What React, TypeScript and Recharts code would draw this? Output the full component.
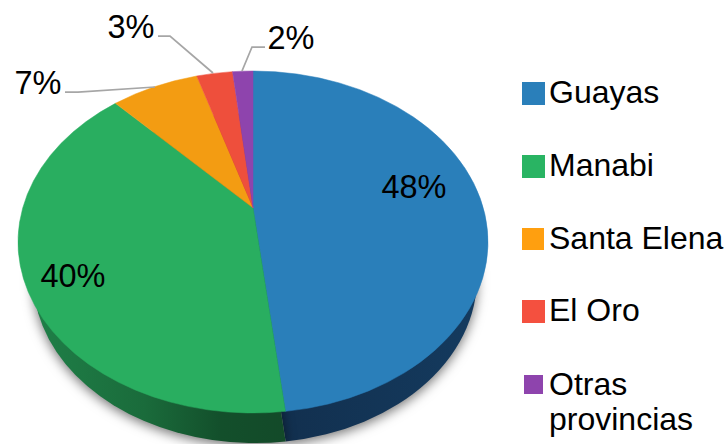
import React from "react";
import { PieChart, Pie, Legend } from "recharts";

const categories = ["Guayas", "Manabi", "Santa Elena", "El Oro", "Otras provincias"];
const shares = [48.2, 39.8, 7.3, 3.0, 1.7];
const topColors = ["#2A7FBA", "#29AE60", "#F39C12", "#EE4F3C", "#8E44AD"];
const wallColors = ["url(#wallBlue)", "url(#wallGreen)", "#8A5A0A", "#8A2E22", "#522764"];
const legendColors = ["#2A7FBA", "#29B463", "#FF9F0F", "#F4503F", "#8E44AD"];

const FONT = "'Liberation Sans', Arial, sans-serif";
const W = 728;
const H = 444;
const TILT = 0.2;

const data = categories.map((name, i) => ({
  name,
  value: shares[i],
  fill: topColors[i],
  wallFill: wallColors[i],
}));

const labelLayout = [
  { x: 414, y: 187, line: null },
  { x: 73, y: 276, line: null },
  { x: 38, y: 83, line: "65,92 78,92 155,87" },
  { x: 131, y: 27, line: "158,36 170,36 213,73" },
  { x: 291, y: 38, line: "265,47 252,47 242,71" },
];

const project = (deg: number, cx: number, cy: number, rx: number, ry: number) => {
  const a = (deg * Math.PI) / 180;
  const u = Math.cos(a);
  const v = Math.sin(a);
  const d = 1 + TILT * v;
  const x = (u * Math.sqrt(1 - TILT * TILT)) / d;
  const y = (v + TILT) / d;
  return { x: cx + x * rx, y: cy - y * ry, t: Math.atan2(y, x) };
};

const wedge = (p: any, ry: number, fill: string, extra: any = {}) => {
  const { cx, cy, outerRadius: rx, startAngle, endAngle } = p;
  const a = project(startAngle, cx, cy, rx, ry);
  const b = project(endAngle, cx, cy, rx, ry);
  const apexY = cy - TILT * ry;
  let span = a.t - b.t;
  while (span < 0) span += Math.PI * 2;
  const large = span > Math.PI ? 1 : 0;
  const d = `M${cx},${apexY}L${a.x},${a.y}A${rx},${ry} 0 ${large} 1 ${b.x},${b.y}Z`;
  return <path d={d} fill={fill} {...extra} />;
};

const TopSlice = (p: any) => wedge(p, 171, p.fill, { stroke: p.fill, strokeWidth: 0.5 });
const WallSlice = (p: any) =>
  wedge(p, 165, p.wallFill, { style: { filter: "drop-shadow(0px 3px 6px rgba(0,0,0,0.55))" } });

const renderLabel = (p: any) => {
  const l = labelLayout[p.index];
  return (
    <g key={p.index}>
      {l.line && <polyline points={l.line} fill="none" stroke="#A6A6A6" strokeWidth={1.75} />}
      <text x={l.x} y={l.y} dy={11} textAnchor="middle" fontFamily={FONT} fontSize={32.5} fill="#000">
        {`${Math.round(shares[p.index])}%`}
      </text>
    </g>
  );
};

const legendRows = [
  { top: 82, size: 23, left: 522, textTop: 75, lines: ["Guayas"] },
  { top: 155, size: 23, left: 522, textTop: 148, lines: ["Manabi"] },
  { top: 228, size: 22, left: 522, textTop: 221, lines: ["Santa Elena"] },
  { top: 300, size: 23, left: 522, textTop: 293, lines: ["El Oro"] },
  { top: 375, size: 19, left: 524, textTop: 367, lines: ["Otras", "provincias"] },
];

const LegendBox = ({ payload }: any) => {
  const entries = (payload || []).filter((e: any) => e.type !== "none").slice(0, categories.length);
  return (
    <div style={{ position: "relative", width: W, height: H, fontFamily: FONT, fontSize: 32, color: "#000" }}>
      {entries.map((e: any, i: number) => {
        const r = legendRows[i];
        return (
          <React.Fragment key={i}>
            <div style={{ position: "absolute", left: r.left, top: r.top, width: r.size, height: r.size, background: legendColors[i] }} />
            <div style={{ position: "absolute", left: 549, top: r.textTop, lineHeight: "35px", whiteSpace: "nowrap" }}>
              {r.lines.map((t) => (
                <div key={t}>{t}</div>
              ))}
            </div>
          </React.Fragment>
        );
      })}
    </div>
  );
};

export default function App() {
  return (
    <div style={{ position: "absolute", left: 0, top: 0, width: W, height: H, background: "#fff" }}>
      <PieChart width={W} height={H} margin={{ top: 0, right: 0, bottom: 0, left: 0 }}>
        <defs>
          <linearGradient id="wallGreen" gradientUnits="userSpaceOnUse" x1="30" y1="0" x2="285" y2="0">
            <stop offset="0" stopColor="#1F8048" />
            <stop offset="0.45" stopColor="#1A6B3B" />
            <stop offset="0.75" stopColor="#134F2B" />
            <stop offset="1" stopColor="#134A29" />
          </linearGradient>
          <linearGradient id="wallBlue" gradientUnits="userSpaceOnUse" x1="285" y1="0" x2="475" y2="0">
            <stop offset="0" stopColor="#12304F" />
            <stop offset="1" stopColor="#143A5E" />
          </linearGradient>
        </defs>
        <Pie
          data={data}
          dataKey="value"
          nameKey="name"
          cx={255}
          cy={278}
          outerRadius={222}
          startAngle={90}
          endAngle={-270}
          paddingAngle={0}
          stroke="none"
          legendType="none"
          shape={WallSlice}
          isAnimationActive={false}
        />
        <Pie
          data={data}
          dataKey="value"
          nameKey="name"
          cx={253}
          cy={242}
          outerRadius={235}
          startAngle={90}
          endAngle={-270}
          paddingAngle={0}
          stroke="none"
          shape={TopSlice}
          label={renderLabel}
          labelLine={false}
          isAnimationActive={false}
        />
        <Legend content={<LegendBox />} wrapperStyle={{ position: "absolute", left: 0, top: 0, width: W, height: H, bottom: "auto" }} />
      </PieChart>
    </div>
  );
}
